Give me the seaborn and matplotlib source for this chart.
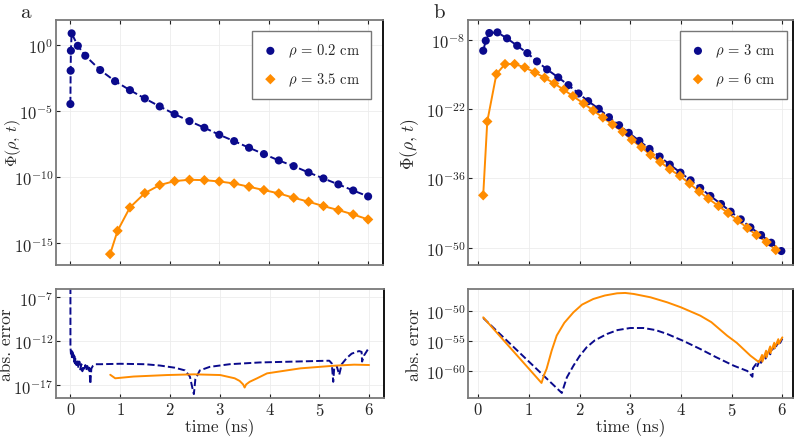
import numpy as np
import pandas as pd
import matplotlib
matplotlib.use("Agg")
import matplotlib.pyplot as plt
import seaborn as sns

# ---- panel a: fluence at rho = 0.2 cm and 3.5 cm (log10 values)
a_blue_t = [0.0, 0.005, 0.01, 0.025, 0.15, 0.3, 0.6, 0.9, 1.2, 1.5, 1.8, 2.1, 2.4, 2.7,
            3.0, 3.3, 3.6, 3.9, 4.2, 4.5, 4.8, 5.1, 5.4, 5.7, 6.0]
a_blue_log = [-4.48, -1.96, -0.45, 0.86, -0.08, -0.83, -1.91, -2.75, -3.43, -4.06, -4.66,
              -5.24, -5.77, -6.27, -6.80, -7.28, -7.78, -8.26, -8.74, -9.17, -9.65, -10.10,
              -10.55, -11.01, -11.46]
a_orange_t = [0.8, 0.95, 1.2, 1.5, 1.8, 2.1, 2.4, 2.7, 3.0, 3.3, 3.6, 3.9, 4.2, 4.5, 4.8,
              5.1, 5.4, 5.7, 6.0]
a_orange_log = [-15.82, -14.06, -12.29, -11.21, -10.60, -10.30, -10.20, -10.23, -10.33,
                -10.48, -10.73, -10.98, -11.23, -11.56, -11.86, -12.19, -12.49, -12.82, -13.20]

# ---- panel a: absolute error
a_err_blue_t = [0.0, 0.0, 0.01, 0.02, 0.03, 0.04, 0.05, 0.06, 0.07, 0.08, 0.09, 0.10, 0.12,
                0.14, 0.16, 0.18, 0.20, 0.22, 0.24, 0.26, 0.28, 0.30, 0.32, 0.34, 0.36, 0.38,
                0.40, 0.42, 0.45, 0.50, 0.60, 1.0, 1.5, 1.8, 2.1, 2.3, 2.4, 2.45, 2.48, 2.51,
                2.6, 2.8, 3.2, 3.8, 4.5, 5.2, 5.25, 5.28, 5.30, 5.35, 5.40, 5.45, 5.55, 5.65,
                5.8, 5.85, 5.86, 5.9, 6.0]
a_err_blue_log = [-5.8, -12.6, -13.4, -12.9, -13.8, -13.2, -14.0, -13.5, -14.3, -13.7, -14.5,
                  -13.9, -14.7, -14.1, -15.0, -14.3, -15.2, -14.6, -15.4, -14.8, -15.1, -14.7,
                  -15.3, -14.8, -15.4, -15.0, -16.85, -15.1, -14.8, -14.6, -14.6, -14.55,
                  -14.6, -14.75, -15.0, -15.3, -16.0, -17.3, -18.0, -16.3, -15.3, -14.9,
                  -14.6, -14.4, -14.3, -14.2, -14.5, -16.6, -15.0, -14.8, -15.8, -14.6,
                  -13.9, -13.4, -13.1, -13.2, -14.3, -13.6, -12.7]
a_err_orange_t = [0.8, 0.9, 1.27, 1.94, 2.48, 3.01, 3.3, 3.4, 3.47, 3.5, 3.53, 3.6, 3.75,
                  3.95, 4.62, 5.3, 5.7, 6.0]
a_err_orange_log = [-15.8, -16.2, -16.0, -15.83, -15.75, -15.83, -16.2, -16.5, -16.9, -17.25,
                    -16.9, -16.6, -16.2, -15.64, -15.07, -14.77, -14.65, -14.69]

# ---- panel b: fluence at rho = 3 cm and 6 cm
b_blue_t = [0.1, 0.15, 0.22, 0.38, 0.57, 0.77, 0.97, 1.16, 1.36, 1.58, 1.78, 1.98, 2.17,
            2.38, 2.58, 2.78, 2.97, 3.18, 3.38, 3.58, 3.78, 3.99, 4.19, 4.38, 4.58, 4.79,
            4.98, 5.18, 5.37, 5.58, 5.78, 5.98]
b_blue_log = [-10.23, -8.20, -6.65, -6.52, -7.73, -9.21, -10.70, -12.38, -14.00, -15.62,
              -17.17, -18.86, -20.41, -21.96, -23.65, -25.26, -26.81, -28.43, -30.05, -31.60,
              -33.22, -34.84, -36.39, -37.94, -39.56, -41.18, -42.73, -44.28, -45.90, -47.45,
              -49.00, -50.68]
b_orange_t = [0.1, 0.18, 0.36, 0.53, 0.72, 0.92, 1.12, 1.31, 1.50, 1.69, 1.87, 2.08, 2.27,
              2.46, 2.65, 2.85, 3.03, 3.22, 3.40, 3.59, 3.78, 3.98, 4.17, 4.36, 4.54, 4.74,
              4.93, 5.12, 5.31, 5.49, 5.69, 5.87]
b_orange_log = [-39.42, -24.52, -14.95, -12.92, -12.92, -13.60, -14.61, -15.69, -16.83,
                -18.11, -19.40, -20.88, -22.30, -23.71, -25.13, -26.61, -28.23, -29.71,
                -31.26, -32.68, -34.16, -35.51, -37.06, -38.68, -40.10, -41.58, -43.00,
                -44.48, -46.03, -47.45, -48.87, -50.48]

# ---- panel b: absolute error
b_err_blue_t = [0.1, 0.43, 1.29, 1.65, 1.75, 1.88, 2.0, 2.14, 2.3, 2.54, 2.75, 3.0, 3.26,
                3.5, 3.73, 4.05, 4.38, 4.7, 5.04, 5.31, 5.41, 5.42, 5.48, 5.50, 5.56, 5.58,
                5.65, 5.67, 5.74, 5.76, 5.83, 5.85, 5.92, 5.94, 6.0]
b_err_blue_log = [-51.2, -53.85, -60.7, -63.57, -61.0, -59.07, -57.5, -56.04, -54.9, -53.85,
                  -53.2, -52.86, -52.86, -53.2, -53.85, -55.0, -56.32, -57.7, -59.07, -59.95,
                  -60.9, -59.5, -58.8, -59.3, -58.0, -58.6, -57.3, -57.9, -56.6, -57.2,
                  -55.9, -56.4, -55.1, -55.6, -54.6]
b_err_orange_t = [0.1, 1.25, 1.3, 1.35, 1.45, 1.55, 1.7, 1.88, 2.05, 2.27, 2.5, 2.74, 2.9,
                  3.07, 3.4, 3.73, 4.0, 4.38, 4.6, 4.91, 5.1, 5.37, 5.54, 5.60, 5.605, 5.68,
                  5.685, 5.76, 5.765, 5.84, 5.845, 5.92, 5.925, 6.0]
b_err_orange_log = [-51.1, -61.92, -60.6, -59.6, -56.6, -54.1, -52.0, -50.27, -49.0, -48.08,
                    -47.5, -47.14, -47.08, -47.25, -47.8, -48.63, -49.45, -50.82, -51.9,
                    -54.12, -55.3, -57.42, -58.5, -57.3, -58.4, -56.6, -57.7, -55.9, -57.0,
                    -55.3, -56.2, -54.7, -55.5, -54.4]

BLUE = "#0a0a8c"
ORANGE = "#ff8c00"

sns.set_theme(style="white")
plt.rcParams["font.family"] = "serif"
plt.rcParams["font.serif"] = ["cmr10", "DejaVu Serif"]
plt.rcParams["mathtext.fontset"] = "cm"
plt.rcParams["axes.formatter.use_mathtext"] = True
plt.rcParams["axes.unicode_minus"] = False

fig = plt.figure(figsize=(7.97, 4.39), dpi=100)
W, H = 797, 439


def add_ax(l, r, t, b):
    return fig.add_axes([l / W, 1 - b / H, (r - l) / W, (b - t) / H])


ax_a = add_ax(56, 383, 21, 266)
ax_a2 = add_ax(56, 384, 290, 399)
ax_b = add_ax(468, 793, 21, 266)
ax_b2 = add_ax(468, 793, 290, 399)


def draw_line(ax, t, logv, color, dashed):
    df = pd.DataFrame({"t": t, "v": np.power(10.0, logv)})
    sns.lineplot(data=df, x="t", y="v", ax=ax, color=color, estimator=None, sort=False,
                 linewidth=1.4, linestyle="--" if dashed else "-")


def draw_points(ax, t, logv, color, marker, label):
    df = pd.DataFrame({"t": t, "v": np.power(10.0, logv)})
    sns.scatterplot(data=df, x="t", y="v", ax=ax, color=color, marker=marker,
                    s=34 if marker == "o" else 28, edgecolor="none", label=label, zorder=3)


def style(ax, xlim, ylim, yticks, xlabels):
    ax.set_yscale("log")
    ax.set_xlim(*xlim)
    ax.set_ylim(10.0 ** ylim[0], 10.0 ** ylim[1])
    ax.set_xticks(range(7))
    ax.set_yticks([10.0 ** k for k in yticks])
    ax.minorticks_off()
    ax.grid(True, color="#ececec", linewidth=0.6)
    ax.tick_params(direction="in", length=3, width=0.8, labelsize=12, color="#222222",
                   bottom=True, left=True, top=not xlabels)
    ax.tick_params(axis="x", pad=2)
    ax.tick_params(axis="y", pad=2)
    if not xlabels:
        ax.set_xticklabels([])
        ax.set_xlabel("")
    else:
        ax.set_xlabel("time (ns)", fontsize=12.5, labelpad=0)
    for side in ["left", "top", "bottom"]:
        ax.spines[side].set_color("#7a7a7a")
        ax.spines[side].set_linewidth(1.3)
    ax.spines["right"].set_color("black")
    ax.spines["right"].set_linewidth(1.3)


# panel a
draw_line(ax_a, a_blue_t, a_blue_log, BLUE, True)
draw_line(ax_a, a_orange_t, a_orange_log, ORANGE, False)
draw_points(ax_a, a_blue_t, a_blue_log, BLUE, "o", r"$\rho\,=\,0.2$ cm")
draw_points(ax_a, a_orange_t, a_orange_log, ORANGE, "D", r"$\rho\,=\,3.5$ cm")
style(ax_a, (-0.29, 6.3), (-16.64, 1.87), [0, -5, -10, -15], False)
ax_a.set_ylabel(r"$\Phi(\rho,\, t)$", fontsize=11.5)
ax_a.yaxis.set_label_coords(-0.102, 0.5)

draw_line(ax_a2, a_err_blue_t, a_err_blue_log, BLUE, True)
draw_line(ax_a2, a_err_orange_t, a_err_orange_log, ORANGE, False)
style(ax_a2, (-0.29, 6.3), (-18.44, -6.05), [-7, -12, -17], True)
ax_a2.set_ylabel("abs. error", fontsize=12.5)
ax_a2.yaxis.set_label_coords(-0.128, 0.5)

# panel b
draw_line(ax_b, b_blue_t, b_blue_log, BLUE, True)
draw_line(ax_b, b_orange_t, b_orange_log, ORANGE, False)
draw_points(ax_b, b_blue_t, b_blue_log, BLUE, "o", r"$\rho\,=\,3$ cm")
draw_points(ax_b, b_orange_t, b_orange_log, ORANGE, "D", r"$\rho\,=\,6$ cm")
style(ax_b, (-0.2, 6.21), (-53.5, -4.02), [-8, -22, -36, -50], False)
ax_b.set_ylabel(r"$\Phi(\rho,\, t)$", fontsize=12.5)
ax_b.yaxis.set_label_coords(-0.145, 0.5)

draw_line(ax_b2, b_err_blue_t, b_err_blue_log, BLUE, True)
draw_line(ax_b2, b_err_orange_t, b_err_orange_log, ORANGE, False)
style(ax_b2, (-0.2, 6.21), (-64.4, -46.43), [-50, -55, -60], True)
ax_b2.set_ylabel("abs. error", fontsize=12.5)
ax_b2.yaxis.set_label_coords(-0.14, 0.5)

for ax, anchor_x in ((ax_a, 0.963), (ax_b, 0.982)):
    leg = ax.legend(loc="upper right", fontsize=10.5, frameon=True, fancybox=False,
                    edgecolor="#777777", framealpha=1, borderpad=0.75, handletextpad=0.7,
                    labelspacing=0.75, handlelength=1.0, borderaxespad=0.0,
                    bbox_to_anchor=(anchor_x, 0.955))
    leg.get_frame().set_linewidth(1.0)

fig.text(20 / W, 1 - 13 / H, "a", fontsize=15, va="center", ha="left")
fig.text(433 / W, 1 - 13 / H, "b", fontsize=15, va="center", ha="left")

fig.savefig("out.png", dpi=100)
